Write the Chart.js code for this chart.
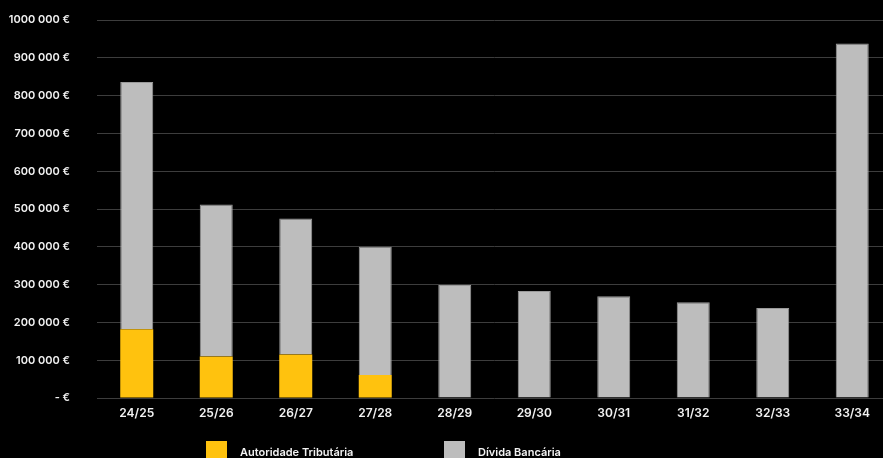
<!DOCTYPE html>
<html>
<head>
<meta charset="utf-8">
<script src="https://cdn.jsdelivr.net/npm/chart.js@4.4.1/dist/chart.umd.min.js"></script>
<style>
  html, body { margin: 0; padding: 0; background: #000; overflow: hidden; }
  #wrap { position: relative; width: 883px; height: 458px; overflow: hidden; background: #000; }
  #c { position: absolute; left: 0; top: 0; }
  .lg-box { position: absolute; width: 21px; height: 20px; }
  .lg-txt { position: absolute; font: 600 11px Inter, "Noto Sans", sans-serif; color: #f2f2f2; line-height: 12px; white-space: nowrap; }
</style>
</head>
<body>
<div id="wrap">
  <canvas id="c" width="892" height="458" style="width:892px;height:458px"></canvas>
  <div id="legend"></div>
</div>
<script>
const categories = ['24/25', '25/26', '26/27', '27/28', '28/29', '29/30', '30/31', '31/32', '32/33', '33/34'];
const autoridadeTributaria = [182000, 110000, 115000, 61000, 0, 0, 0, 0, 0, 0];
const dividaBancaria = [654000, 402000, 360000, 339000, 299000, 283000, 269000, 253000, 238000, 938000];
const yTickLabels = ['- €', '100 000 €', '200 000 €', '300 000 €', '400 000 €', '500 000 €',
  '600 000 €', '700 000 €', '800 000 €', '900 000 €', '1000 000 €'];

const fontFamily = 'Inter, "Noto Sans", sans-serif';

const ctx = document.getElementById('c').getContext('2d');
const chart = new Chart(ctx, {
  type: 'bar',
  data: {
    labels: categories,
    datasets: [
      {
        label: 'Autoridade Tributária',
        data: autoridadeTributaria,
        backgroundColor: '#ffc20e',
        borderWidth: 0,
        barPercentage: 0.415,
        categoryPercentage: 1,
      },
      {
        label: 'Dívida Bancária',
        data: dividaBancaria,
        backgroundColor: '#bdbdbd',
        borderColor: '#9a9a9a',
        borderWidth: 1,
        borderSkipped: 'bottom',
        barPercentage: 0.415,
        categoryPercentage: 1,
      },
    ],
  },
  options: {
    responsive: false,
    animation: false,
    layout: { padding: { top: 20, right: 0, bottom: 29.6, left: 0 } },
    scales: {
      x: {
        stacked: true,
        grid: { display: false, drawTicks: false },
        border: { display: false },
        ticks: {
          color: '#f2f2f2',
          padding: 8,
          font: { family: fontFamily, size: 12, weight: '600' },
        },
      },
      y: {
        stacked: true,
        min: 0,
        max: 1000000,
        border: { display: false },
        // invisible tick marks make the gap between labels and plot
        grid: { color: '#3d3d3d', lineWidth: 1, drawTicks: true, tickLength: 27, tickColor: 'rgba(0,0,0,0)' },
        ticks: {
          stepSize: 100000,
          color: '#f2f2f2',
          padding: 0,
          font: { family: fontFamily, size: 11, weight: '600' },
          callback: (value) => yTickLabels[Math.round(value / 100000)],
        },
        afterFit: (scale) => { scale.width = 97; },
      },
    },
    plugins: {
      legend: { display: false },
      tooltip: { enabled: false },
    },
  },
});

// html legend, taken from the chart's datasets
const legendPos = [{ box: 206, txt: 240 }, { box: 444, txt: 478 }];
const legendEl = document.getElementById('legend');
chart.data.datasets.forEach((ds, i) => {
  const box = document.createElement('div');
  box.className = 'lg-box';
  box.style.left = legendPos[i].box + 'px';
  box.style.top = '441px';
  box.style.background = ds.backgroundColor;
  const txt = document.createElement('div');
  txt.className = 'lg-txt';
  txt.style.left = legendPos[i].txt + 'px';
  txt.style.top = '446px';
  txt.textContent = ds.label;
  legendEl.appendChild(box);
  legendEl.appendChild(txt);
});
</script>
</body>
</html>
